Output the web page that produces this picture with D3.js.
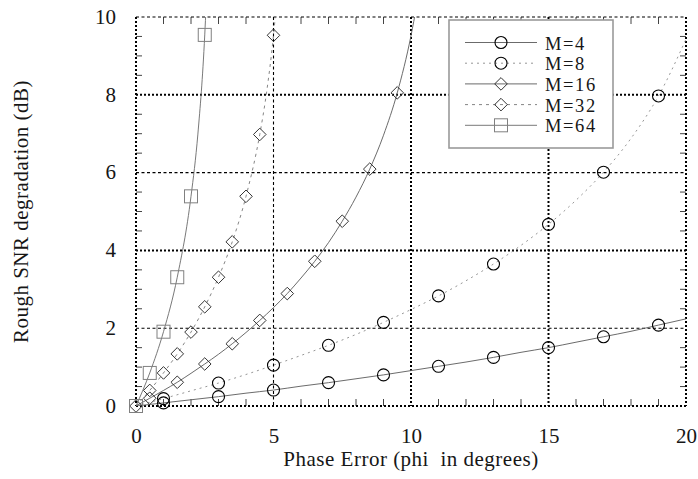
<!DOCTYPE html>
<html>
<head>
<meta charset="utf-8">
<script src="https://cdn.jsdelivr.net/npm/d3@7"></script>
<style>
  html, body { margin: 0; padding: 0; background: #fff; }
  svg { display: block; }
</style>
</head>
<body>
<svg id="chart" width="698" height="479"></svg>
<script>
// Phase error samples (degrees) and SNR degradation (dB) for each constellation size
const phiM4 = [0,1,2,3,4,5,6,7,8,9,10,11,12,13,14,15,16,17,18,19,20];
const snrM4 = [0,0.08,0.16,0.24,0.33,0.41,0.51,0.60,0.70,0.80,0.91,1.02,1.13,1.25,1.38,1.50,1.64,1.78,1.92,2.08,2.24];
const markM4 = [1,3,5,7,9,11,13,15,17,19];

const phiM8 = [0,1,2,3,4,5,6,7,8,9,10,11,12,13,14,15,16,17,18,19,20];
const snrM8 = [0,0.19,0.39,0.59,0.81,1.05,1.30,1.56,1.84,2.15,2.48,2.83,3.22,3.65,4.13,4.67,5.29,6.01,6.88,7.97,9.43];
const markM8 = [1,3,5,7,9,11,13,15,17,19];

const phiM16 = [0,0.5,1,1.5,2,2.5,3,3.5,4,4.5,5,5.5,6,6.5,7,7.5,8,8.5,9,9.5,10,10.2];
const snrM16 = [0,0.20,0.40,0.61,0.84,1.08,1.33,1.60,1.89,2.20,2.53,2.89,3.29,3.72,4.20,4.75,5.37,6.09,6.96,8.05,9.52,10.27];
const markM16 = [0.5,1.5,2.5,3.5,4.5,5.5,6.5,7.5,8.5,9.5];

const phiM32 = [0,0.5,1,1.5,2,2.5,3,3.5,4,4.5,4.75,5,5.08];
const snrM32 = [0,0.40,0.85,1.34,1.90,2.55,3.31,4.22,5.39,6.98,8.07,9.53,10.13];
const markM32 = [0,0.5,1,1.5,2,2.5,3,3.5,4,4.5,5];

const phiM64 = [0,0.5,1,1.5,2,2.25,2.5,2.55];
const snrM64 = [0,0.85,1.91,3.31,5.39,6.99,9.54,10.3];
const markM64 = [0,0.5,1,1.5,2,2.5];

const seriesNames = ["M=4","M=8","M=16","M=32","M=64"];
const xTicks = [0,5,10,15,20];
const yTicks = [0,2,4,6,8,10];
const xLabel = "Phase Error (phi  in degrees)";
const yLabel = "Rough SNR degradation (dB)";

const FONT = '"Liberation Serif", "DejaVu Serif", serif';
const TEXT_COLOR = "#161616";

// Drawing styles per series
const styles = [
  { dash: null,  line: "#5a5a5a", shape: "circle",  mark: "#000" },
  { dash: "2,4", line: "#8a8a8a", shape: "circle",  mark: "#000" },
  { dash: null,  line: "#5a5a5a", shape: "diamond", mark: "#333" },
  { dash: "3,4", line: "#777",    shape: "diamond", mark: "#333" },
  { dash: null,  line: "#6a6a6a", shape: "square",  mark: "#808080" }
];

const series = [
  { x: phiM4,  y: snrM4,  marks: markM4 },
  { x: phiM8,  y: snrM8,  marks: markM8 },
  { x: phiM16, y: snrM16, marks: markM16 },
  { x: phiM32, y: snrM32, marks: markM32 },
  { x: phiM64, y: snrM64, marks: markM64 }
].map((s, i) => ({
  name: seriesNames[i],
  style: styles[i],
  points: s.x.map((v, j) => ({ x: v, y: s.y[j] })),
  markers: s.x.map((v, j) => ({ x: v, y: s.y[j] })).filter(p => s.marks.includes(p.x))
}));

const W = 698, H = 479;
const margin = { left: 136, right: 12, top: 17, bottom: 73 };
const iw = W - margin.left - margin.right;
const ih = H - margin.top - margin.bottom;

const svg = d3.select("#chart");
const g = svg.append("g").attr("transform", `translate(${margin.left},${margin.top})`);

const x = d3.scaleLinear().domain([0, 20]).range([0, iw]);
const y = d3.scaleLinear().domain([0, 10]).range([ih, 0]);

function styleText(sel, size, spacing) {
  sel.style("font-family", FONT)
     .style("font-size", size + "px")
     .style("letter-spacing", (spacing || 0) + "px")
     .style("fill", TEXT_COLOR);
}

// Heavier dotted rules on some grid positions, lighter dashed on the others
const heavyX = new Set([0, 10, 15, 20]);
const heavyY = new Set([0, 4, 8]);

// Minor ticks (inward) on all four sides
const minorX = d3.range(1, 20, 1).filter(v => v % 5 !== 0);
const minorY = d3.range(0.5, 10, 0.5).filter(v => v % 2 !== 0);
const tickLen = 7;
const ticks = g.append("g").attr("stroke", "#444").attr("stroke-width", 1);
minorX.forEach(v => {
  ticks.append("line").attr("x1", x(v)).attr("x2", x(v)).attr("y1", ih).attr("y2", ih - tickLen);
  ticks.append("line").attr("x1", x(v)).attr("x2", x(v)).attr("y1", 0).attr("y2", tickLen);
});
minorY.forEach(v => {
  ticks.append("line").attr("y1", y(v)).attr("y2", y(v)).attr("x1", 0).attr("x2", tickLen - 1);
  ticks.append("line").attr("y1", y(v)).attr("y2", y(v)).attr("x1", iw).attr("x2", iw - tickLen + 1);
});

// Grid lines and frame
const grid = g.append("g").attr("stroke", "#000").attr("fill", "none");
xTicks.forEach(v => {
  const heavy = heavyX.has(v);
  grid.append("line")
    .attr("x1", x(v)).attr("x2", x(v)).attr("y1", 0).attr("y2", ih)
    .attr("stroke-width", heavy ? 2 : 1.1)
    .attr("stroke-dasharray", heavy ? "2,2" : "3,2.5");
});
yTicks.forEach(v => {
  const heavy = heavyY.has(v);
  grid.append("line")
    .attr("y1", y(v)).attr("y2", y(v)).attr("x1", 0).attr("x2", iw)
    .attr("stroke-width", heavy ? 2 : 1.1)
    .attr("stroke-dasharray", heavy ? "2,2" : "3,2.5");
});

// Axis tick labels via d3 axes (domain and tick marks hidden)
const xAxis = g.append("g").attr("transform", `translate(0,${ih})`)
  .call(d3.axisBottom(x).tickValues(xTicks).tickSize(0).tickPadding(22).tickFormat(d3.format("d")));
const yAxis = g.append("g")
  .call(d3.axisLeft(y).tickValues(yTicks).tickSize(0).tickPadding(20).tickFormat(d3.format("d")));
[xAxis, yAxis].forEach(a => {
  a.select(".domain").remove();
  styleText(a.selectAll("text"), 21, 0);
});
xAxis.selectAll("text").attr("dy", "0.7em");
yAxis.selectAll("text").attr("dy", "0.3em");

// Axis titles
svg.append("text")
  .attr("x", margin.left + iw / 2).attr("y", 466)
  .attr("text-anchor", "middle")
  .style("white-space", "pre")
  .text(xLabel)
  .call(styleText, 21, 0.5);
svg.append("text")
  .attr("transform", `translate(28,${margin.top + ih / 2}) rotate(-90)`)
  .attr("text-anchor", "middle")
  .text(yLabel)
  .call(styleText, 21, 0.5);

// Clip region for curves leaving the plot
svg.append("defs").append("clipPath").attr("id", "plotClip")
  .append("rect").attr("x", 0).attr("y", 0).attr("width", iw).attr("height", ih);

const line = d3.line().x(d => x(d.x)).y(d => y(d.y)).curve(d3.curveMonotoneX);

function drawMarker(sel, shape, cx, cy, color) {
  if (shape === "circle") {
    sel.append("circle").attr("cx", cx).attr("cy", cy).attr("r", 6)
      .attr("fill", "none").attr("stroke", color).attr("stroke-width", 1.1);
  } else if (shape === "diamond") {
    const r = 6.3;
    sel.append("path")
      .attr("d", `M${cx},${cy - r}L${cx + r},${cy}L${cx},${cy + r}L${cx - r},${cy}Z`)
      .attr("fill", "none").attr("stroke", color).attr("stroke-width", 1);
  } else {
    const s = 13;
    sel.append("rect").attr("x", cx - s / 2).attr("y", cy - s / 2).attr("width", s).attr("height", s)
      .attr("fill", "none").attr("stroke", color).attr("stroke-width", 1);
  }
}

const curves = g.append("g").attr("clip-path", "url(#plotClip)");
series.forEach(s => {
  curves.append("path")
    .datum(s.points)
    .attr("d", line)
    .attr("fill", "none")
    .attr("stroke", s.style.line)
    .attr("stroke-width", 0.9)
    .attr("stroke-dasharray", s.style.dash);
});
const marks = g.append("g");
series.forEach(s => {
  s.markers.forEach(p => drawMarker(marks, s.style.shape, x(p.x), y(p.y), s.style.mark));
});

// Legend
const lg = svg.append("g");
lg.append("rect")
  .attr("x", 449).attr("y", 20).attr("width", 164).attr("height", 128)
  .attr("fill", "#fff").attr("stroke", "#9a9a9a").attr("stroke-width", 1.6);
series.forEach((s, i) => {
  const ry = 42.5 + i * 20.7;
  lg.append("line").attr("x1", 465).attr("x2", 537).attr("y1", ry).attr("y2", ry)
    .attr("stroke", s.style.line).attr("stroke-width", 0.9)
    .attr("stroke-dasharray", s.style.dash);
  drawMarker(lg, s.style.shape, 501, ry, s.style.mark);
  lg.append("text").attr("x", 545).attr("y", ry + 7)
    .text(s.name)
    .call(styleText, 18.5, 1.6);
});
</script>
</body>
</html>
